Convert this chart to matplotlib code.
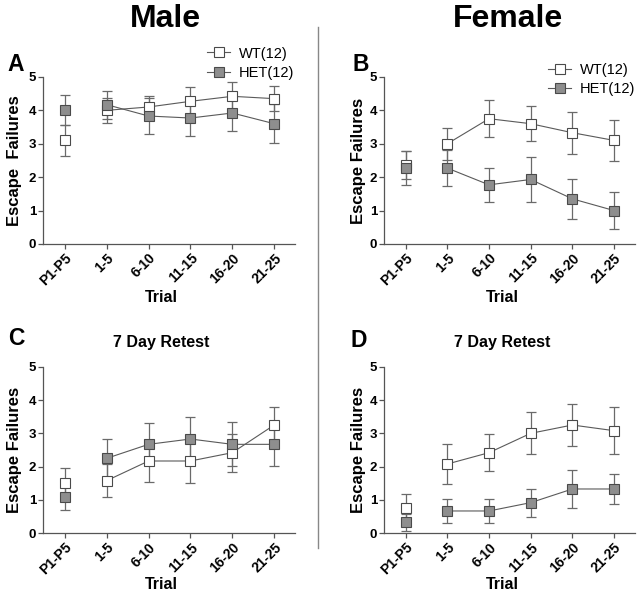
import numpy as np
import matplotlib
matplotlib.use("Agg")
import matplotlib.pyplot as plt

plt.rcParams['font.family'] = ['Liberation Sans', 'DejaVu Sans']

trials = ["P1-P5", "1-5", "6-10", "11-15", "16-20", "21-25"]

# panel A: male, first test
a_wt = [3.1, 4.0, 4.1, 4.27, 4.42, 4.35]
a_wt_err = [0.47, 0.37, 0.33, 0.42, 0.42, 0.38]
a_het = [4.02, 4.17, 3.83, 3.77, 3.92, 3.6]
a_het_err = [0.45, 0.42, 0.55, 0.55, 0.55, 0.58]

# panel B: female, first test
b_wt = [2.35, 3.0, 3.75, 3.6, 3.33, 3.1]
b_wt_err = [0.42, 0.48, 0.55, 0.52, 0.63, 0.62]
b_het = [2.27, 2.27, 1.77, 1.93, 1.35, 1.0]
b_het_err = [0.5, 0.53, 0.5, 0.66, 0.6, 0.56]

# panel C: male, 7 day retest
c_wt = [1.5, 1.58, 2.17, 2.17, 2.42, 3.25]
c_wt_err = [0.45, 0.5, 0.62, 0.66, 0.57, 0.55]
c_het = [1.1, 2.25, 2.67, 2.83, 2.67, 2.67]
c_het_err = [0.4, 0.58, 0.63, 0.67, 0.66, 0.65]

# panel D: female, 7 day retest
d_wt = [0.75, 2.08, 2.42, 3.0, 3.25, 3.08]
d_wt_err = [0.43, 0.61, 0.55, 0.63, 0.62, 0.7]
d_het = [0.33, 0.67, 0.67, 0.92, 1.33, 1.33]
d_het_err = [0.25, 0.35, 0.35, 0.42, 0.57, 0.44]

line_col = '#5a5a5a'
edge_col = '#4a4a4a'
het_fill = '#8e8e8e'


def draw_series(ax, vals, errs, fill, label):
    x = np.arange(len(vals))
    ax.errorbar(x, vals, yerr=errs, fmt='none', ecolor='#6a6a6a',
                elinewidth=0.9, capsize=3.5, capthick=0.9, zorder=2)
    # pre-test point is not joined to the trial blocks
    ax.plot(x[1:], vals[1:], color=line_col, lw=0.8, zorder=3)
    ax.plot(x, vals, ls='none', marker='s', ms=6.5, mfc=fill,
            mec=edge_col, mew=0.8, zorder=4)
    # legend handle: marker with short line
    h, = ax.plot([], [], color=line_col, lw=0.8, marker='s', ms=6.5,
                 mfc=fill, mec=edge_col, mew=0.8, label=label)
    return h


def style_axes(ax, ylab, ylab_x, xlab_y):
    ax.set_xlim(-0.52, 5.5)
    ax.set_ylim(0, 5)
    ax.set_yticks([0, 1, 2, 3, 4, 5])
    ax.set_xticks(np.arange(len(trials)))
    ax.set_xticklabels(trials, rotation=45, ha='right', rotation_mode='anchor',
                       fontsize=10, fontweight='bold')
    for lab in ax.get_yticklabels():
        lab.set_fontsize(9.5)
        lab.set_fontweight('bold')
    for s in ['top', 'right']:
        ax.spines[s].set_visible(False)
    for s in ['left', 'bottom']:
        ax.spines[s].set_color('#555555')
        ax.spines[s].set_linewidth(0.9)
    ax.tick_params(length=3.5, width=0.9, color='#555555', pad=1.5)
    ax.set_ylabel(ylab, fontsize=12, fontweight='bold')
    ax.yaxis.set_label_coords(ylab_x, 0.5)
    ax.set_xlabel("Trial", fontsize=11.5, fontweight='bold')
    ax.xaxis.set_label_coords(0.47, xlab_y)


fig = plt.figure(figsize=(6.4, 5.95), dpi=100)

ax_a = fig.add_axes([0.0672, 0.590, 0.394, 0.2807])
ax_b = fig.add_axes([0.600, 0.590, 0.392, 0.2807])
ax_c = fig.add_axes([0.0672, 0.1037, 0.394, 0.2800])
ax_d = fig.add_axes([0.600, 0.1037, 0.392, 0.2800])

panels = [
    (ax_a, a_wt, a_wt_err, a_het, a_het_err, "Escape  Failures", -0.085, -0.275),
    (ax_b, b_wt, b_wt_err, b_het, b_het_err, "Escape Failures", -0.07, -0.275),
    (ax_c, c_wt, c_wt_err, c_het, c_het_err, "Escape Failures", -0.085, -0.262),
    (ax_d, d_wt, d_wt_err, d_het, d_het_err, "Escape Failures", -0.07, -0.262),
]

handles = {}
for ax, wt, wte, het, hete, ylab, lx, ly in panels:
    h1 = draw_series(ax, wt, wte, 'white', 'WT(12)')
    h2 = draw_series(ax, het, hete, het_fill, 'HET(12)')
    handles[ax] = (h1, h2)
    style_axes(ax, ylab, lx, ly)

for ax, anchor in [(ax_a, (0.312, 0.934)), (ax_b, (0.845, 0.906))]:
    ax.legend(handles=handles[ax], loc='upper left', bbox_to_anchor=anchor,
              bbox_transform=fig.transFigure, frameon=False, fontsize=10.5,
              handlelength=1.6, handletextpad=0.6, labelspacing=0.35,
              borderpad=0)

ax_c.set_title("7 Day Retest", fontsize=11.5, fontweight='bold', pad=14,
               x=0.47)
ax_d.set_title("7 Day Retest", fontsize=11.5, fontweight='bold', pad=14,
               x=0.47)

# column headers
fig.text(0.258, 0.968, "Male", fontsize=23, fontweight='bold',
         ha='center', va='center')
fig.text(0.794, 0.968, "Female", fontsize=23, fontweight='bold',
         ha='center', va='center')

# panel letters
for lab, xx, yy in [("A", 0.012, 0.873), ("B", 0.551, 0.873),
                    ("C", 0.012, 0.412), ("D", 0.547, 0.408)]:
    fig.text(xx, yy, lab, fontsize=16.5, fontweight='bold', ha='left',
             va='bottom')

# divider between the two columns
fig.add_artist(plt.Line2D([0.497, 0.497], [1 - 27 / 595, 1 - 548 / 595],
                          transform=fig.transFigure, color='#888888', lw=1.0))

fig.savefig("out.png", dpi=100)
